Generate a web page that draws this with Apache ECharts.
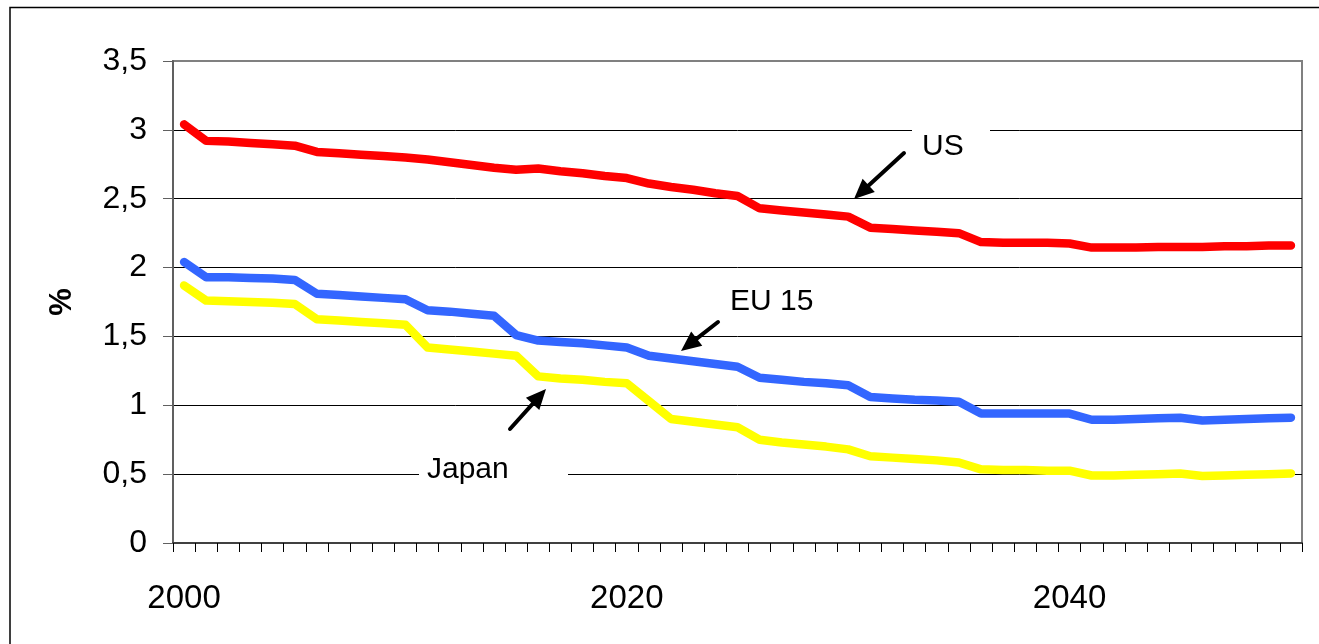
<!DOCTYPE html>
<html>
<head>
<meta charset="utf-8">
<script src="https://cdn.jsdelivr.net/npm/echarts@6/dist/echarts.min.js"></script>
<style>
  html, body { margin: 0; padding: 0; background: #fff; }
  #chart { width: 1319px; height: 644px; }
</style>
</head>
<body>
<div id="chart"></div>
<script>
const years = [
  "2000", "2001", "2002", "2003", "2004", "2005", "2006", "2007", "2008", "2009",
  "2010", "2011", "2012", "2013", "2014", "2015", "2016", "2017", "2018", "2019",
  "2020", "2021", "2022", "2023", "2024", "2025", "2026", "2027", "2028", "2029",
  "2030", "2031", "2032", "2033", "2034", "2035", "2036", "2037", "2038", "2039",
  "2040", "2041", "2042", "2043", "2044", "2045", "2046", "2047", "2048", "2049",
  "2050"
];

const us = [
  3.04, 2.92, 2.915, 2.905, 2.895, 2.885, 2.84, 2.83, 2.82, 2.81,
  2.80, 2.785, 2.765, 2.745, 2.725, 2.71, 2.72, 2.70, 2.685, 2.665,
  2.65, 2.61, 2.585, 2.565, 2.54, 2.52, 2.43, 2.415, 2.40, 2.385,
  2.37, 2.29, 2.28, 2.27, 2.26, 2.25, 2.185, 2.18, 2.18, 2.18,
  2.175, 2.145, 2.145, 2.145, 2.15, 2.15, 2.15, 2.155, 2.155, 2.16,
  2.16
];

const eu15 = [
  2.04, 1.93, 1.93, 1.925, 1.92, 1.91, 1.81, 1.80, 1.79, 1.78,
  1.77, 1.69, 1.68, 1.665, 1.65, 1.51, 1.47, 1.46, 1.45, 1.435,
  1.42, 1.36, 1.34, 1.32, 1.30, 1.28, 1.20, 1.185, 1.17, 1.16,
  1.145, 1.06, 1.05, 1.04, 1.035, 1.025, 0.94, 0.94, 0.94, 0.94,
  0.94, 0.895, 0.895, 0.90, 0.905, 0.91, 0.89, 0.895, 0.90, 0.905,
  0.91
];

const japan = [
  1.87, 1.76, 1.755, 1.75, 1.745, 1.735, 1.625, 1.615, 1.605, 1.595,
  1.585, 1.42, 1.405, 1.39, 1.375, 1.36, 1.21, 1.195, 1.185, 1.17,
  1.16, 1.03, 0.90, 0.88, 0.86, 0.84, 0.75, 0.73, 0.715, 0.70,
  0.68, 0.63, 0.62, 0.61, 0.60, 0.585, 0.535, 0.53, 0.53, 0.525,
  0.525, 0.49, 0.49, 0.495, 0.50, 0.505, 0.487, 0.49, 0.495, 0.50,
  0.505
];

const font = "'Liberation Sans', Arial, sans-serif";

// arrow from tail (x1,y1) to tip (x2,y2)
function arrow(x1, y1, x2, y2) {
  const dx = x2 - x1, dy = y2 - y1;
  const len = Math.sqrt(dx * dx + dy * dy);
  const ux = dx / len, uy = dy / len;
  const head = 20, half = 9;
  const bx = x2 - ux * head, by = y2 - uy * head;
  return [
    {
      type: "line",
      z: 20,
      shape: { x1: x1, y1: y1, x2: bx + ux * 2, y2: by + uy * 2 },
      style: { stroke: "#000", lineWidth: 4, lineCap: "round" }
    },
    {
      type: "polygon",
      z: 20,
      shape: {
        points: [
          [x2, y2],
          [bx - uy * half, by + ux * half],
          [bx + uy * half, by - ux * half]
        ]
      },
      style: { fill: "#000" }
    }
  ];
}

function label(text, boxX, boxY, boxW, boxH, textX, textY) {
  return [
    {
      type: "rect",
      z: 15,
      shape: { x: boxX, y: boxY, width: boxW, height: boxH },
      style: { fill: "#fff" }
    },
    {
      type: "text",
      z: 16,
      x: textX,
      y: textY,
      style: {
        text: text,
        font: "30px " + font,
        fill: "#000",
        verticalAlign: "middle"
      }
    }
  ];
}

const chart = echarts.init(document.getElementById("chart"));

const option = {
  animation: false,
  backgroundColor: "#fff",
  grid: {
    left: 173,
    right: 17,
    top: 61,
    bottom: 101,
    show: true,
    borderColor: "#808080",
    borderWidth: 2
  },
  xAxis: {
    type: "category",
    data: years,
    boundaryGap: true,
    axisLine: { lineStyle: { color: "#404040", width: 2 } },
    axisTick: {
      show: true,
      interval: 0,
      length: 9,
      lineStyle: { color: "#000", width: 1 }
    },
    axisLabel: {
      interval: 19,
      margin: 39,
      fontSize: 33,
      color: "#000",
      fontFamily: font
    },
    splitLine: { show: false }
  },
  yAxis: {
    type: "value",
    min: 0,
    max: 3.5,
    interval: 0.5,
    name: "%",
    nameLocation: "middle",
    nameRotate: 90,
    nameGap: 95,
    nameTextStyle: {
      fontSize: 31,
      fontWeight: "bold",
      color: "#000",
      fontFamily: font
    },
    axisLine: { show: true, lineStyle: { color: "#606060", width: 2 } },
    axisTick: {
      show: true,
      length: 10,
      lineStyle: { color: "#606060", width: 1 }
    },
    axisLabel: {
      margin: 26,
      fontSize: 32,
      color: "#000",
      fontFamily: font,
      formatter: v => String(v).replace(".", ",")
    },
    splitLine: {
      show: true,
      lineStyle: {
        color: ["#000", "#000", "#000", "#000", "#000", "#000", "#000", "#808080"],
        width: 1
      }
    }
  },
  series: [
    {
      name: "US",
      type: "line",
      data: us,
      symbol: "none",
      lineStyle: { color: "#FF0000", width: 8.5, cap: "round", join: "round" },
      itemStyle: { color: "#FF0000" }
    },
    {
      name: "EU 15",
      type: "line",
      data: eu15,
      symbol: "none",
      lineStyle: { color: "#3366FF", width: 8.5, cap: "round", join: "round" },
      itemStyle: { color: "#3366FF" }
    },
    {
      name: "Japan",
      type: "line",
      data: japan,
      symbol: "none",
      lineStyle: { color: "#FFFF00", width: 8.5, cap: "round", join: "round" },
      itemStyle: { color: "#FFFF00" }
    }
  ],
  graphic: [
    // outer frame (top and left edges)
    {
      type: "polyline",
      z: 30,
      shape: { points: [[10, 644], [10, 7.5], [1319, 7.5]] },
      style: { stroke: "#000", lineWidth: 1.5, fill: null }
    },
    ...label("US", 912, 122, 78, 50, 922, 147),
    ...label("EU 15", 726, 282, 92, 40, 730, 302),
    ...label("Japan", 419, 452, 149, 40, 427, 470),
    ...arrow(904, 153, 854, 199),
    ...arrow(718, 322, 681, 351),
    ...arrow(510, 429, 546, 389)
  ]
};

chart.setOption(option);
</script>
</body>
</html>
